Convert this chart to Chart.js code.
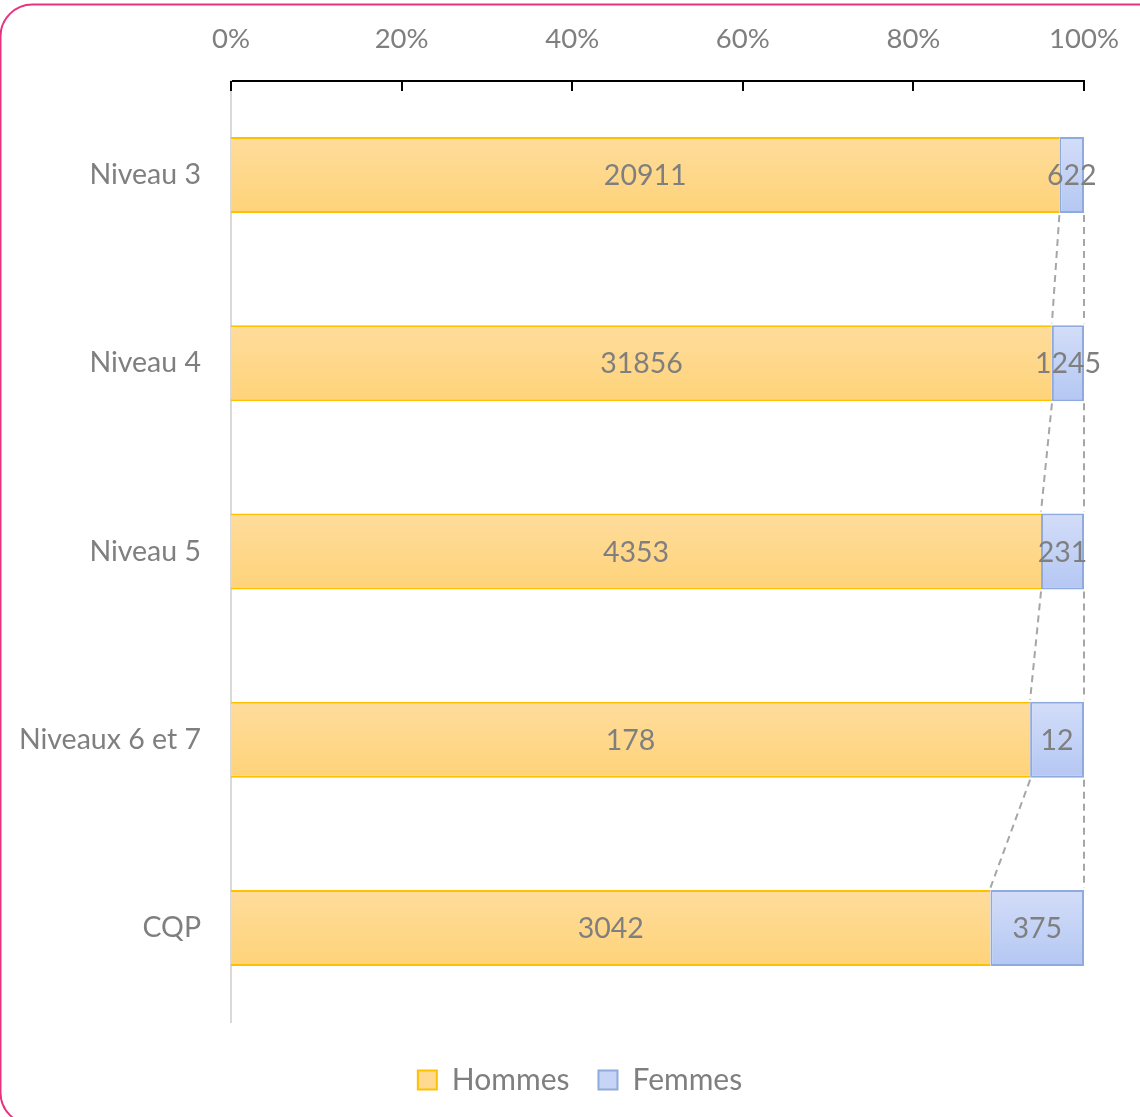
<!DOCTYPE html>
<html>
<head>
<meta charset="utf-8">
<script src="https://cdn.jsdelivr.net/npm/chart.js@4.4.1/dist/chart.umd.min.js"></script>
<style>
  html, body { margin: 0; padding: 0; background: #fff; }
  canvas { display: block; }
</style>
</head>
<body>
<canvas id="chart" width="1140" height="1117"></canvas>
<script>
const categories = ['Niveau 3', 'Niveau 4', 'Niveau 5', 'Niveaux 6 et 7', 'CQP'];
const hommes = [20911, 31856, 4353, 178, 3042];
const femmes = [622, 1245, 231, 12, 375];
const xTicks = [0, 20, 40, 60, 80, 100];

// 100% stacked: shares of each row
const hommesPct = hommes.map((h, i) => h / (h + femmes[i]) * 100);
const femmesPct = femmes.map((f, i) => f / (hommes[i] + f) * 100);

const FONT = 'Lato';
const GREY = '#7F7F7F';
const barPct = 0.404;

function barGradient(c, topColor, bottomColor) {
  const chart = c.chart;
  if (!chart.chartArea || c.dataIndex === undefined) return bottomColor;
  const y = chart.scales.y;
  const mid = y.getPixelForValue(c.dataIndex);
  const half = y.height / categories.length * barPct / 2;
  const g = chart.ctx.createLinearGradient(0, mid - half, 0, mid + half);
  g.addColorStop(0, topColor);
  g.addColorStop(1, bottomColor);
  return g;
}

const framePlugin = {
  id: 'frame',
  beforeDraw(chart) {
    const ctx = chart.ctx;
    ctx.save();
    ctx.fillStyle = '#fff';
    ctx.fillRect(0, 0, chart.width, chart.height);
    ctx.strokeStyle = '#E6337F';
    ctx.lineWidth = 2;
    ctx.beginPath();
    ctx.roundRect(0.5, 4.5, 1200, 1120, 32);
    ctx.stroke();
    ctx.restore();
  },
  afterDatasetsDraw(chart) {
    const ctx = chart.ctx;
    const m0 = chart.getDatasetMeta(0).data;
    const m1 = chart.getDatasetMeta(1).data;
    ctx.save();
    // series lines
    ctx.strokeStyle = '#A6A6A6';
    ctx.lineWidth = 2;
    ctx.setLineDash([7, 5]);
    [m0, m1].forEach(bars => {
      for (let i = 0; i < bars.length - 1; i++) {
        const a = bars[i], b = bars[i + 1];
        ctx.beginPath();
        ctx.moveTo(a.x, a.y + a.height / 2 + 2);
        ctx.lineTo(b.x, b.y - b.height / 2 - 2);
        ctx.stroke();
      }
    });
    ctx.setLineDash([]);
    // data labels
    ctx.fillStyle = GREY;
    ctx.font = '28.5px ' + FONT;
    ctx.textAlign = 'center';
    ctx.textBaseline = 'middle';
    [[m0, hommes], [m1, femmes]].forEach(([bars, vals]) => {
      bars.forEach((el, i) => {
        ctx.fillText(String(vals[i]), (el.x + el.base) / 2, el.y + 1);
      });
    });
    // tick marks pointing down from the top axis
    const x = chart.scales.x;
    ctx.strokeStyle = '#000';
    ctx.lineWidth = 2;
    xTicks.forEach(v => {
      const px = Math.round(x.getPixelForValue(v));
      ctx.beginPath();
      ctx.moveTo(px, chart.chartArea.top);
      ctx.lineTo(px, chart.chartArea.top + 10);
      ctx.stroke();
    });
    ctx.restore();
  }
};

new Chart(document.getElementById('chart'), {
  type: 'bar',
  data: {
    labels: categories,
    datasets: [
      {
        label: 'Hommes',
        data: hommesPct,
        backgroundColor: c => barGradient(c, '#FEDC9C', '#FED379'),
        borderColor: '#FFC000',
        borderWidth: { top: 2, bottom: 2, left: 0, right: 0 },
        borderSkipped: false,
        categoryPercentage: 1,
        barPercentage: barPct
      },
      {
        label: 'Femmes',
        data: femmesPct,
        backgroundColor: c => barGradient(c, '#D3DDF8', '#B4C7F3'),
        borderColor: '#8FAADC',
        borderWidth: 2,
        borderSkipped: false,
        categoryPercentage: 1,
        barPercentage: barPct
      }
    ]
  },
  options: {
    indexAxis: 'y',
    responsive: false,
    animation: false,
    devicePixelRatio: 1,
    layout: { padding: { top: 0, right: 0, bottom: 12, left: 20 } },
    scales: {
      x: {
        position: 'top',
        stacked: true,
        min: 0,
        max: 100,
        afterBuildTicks: s => { s.ticks = xTicks.map(v => ({ value: v })); },
        afterFit: s => { s.height = 81; s.paddingLeft = 0; s.paddingRight = 0; },
        grid: { display: false, drawTicks: false },
        border: { display: true, color: '#000', width: 2 },
        ticks: {
          padding: 25,
          color: GREY,
          font: { family: FONT, size: 27.5 },
          callback: v => v + '%'
        }
      },
      y: {
        stacked: true,
        afterFit: s => { s.width = 211; },
        grid: { display: false, drawTicks: false },
        border: { display: true, color: '#D9D9D9', width: 2 },
        ticks: {
          padding: 30,
          color: GREY,
          font: { family: FONT, size: 28.5 }
        }
      },
      // empty right-hand axis: keeps the white margin right of the bars
      yRight: {
        type: 'category',
        position: 'right',
        afterFit: s => { s.width = 56; },
        grid: { display: false, drawTicks: false },
        border: { display: false },
        ticks: { display: false }
      }
    },
    plugins: {
      tooltip: { enabled: false },
      legend: {
        position: 'bottom',
        title: { display: true, text: '', font: { size: 10, lineHeight: 1.4 } },
        labels: {
          color: GREY,
          font: { family: FONT, size: 30 },
          boxWidth: 19,
          boxHeight: 19,
          padding: 29,
          generateLabels: chart => {
            const fills = ['#FED98F', '#C6D4F6'];
            return chart.data.datasets.map((ds, i) => ({
              text: ds.label,
              fillStyle: fills[i],
              strokeStyle: ds.borderColor,
              lineWidth: 2,
              fontColor: GREY,
              hidden: false,
              datasetIndex: i
            }));
          }
        }
      }
    }
  },
  plugins: [framePlugin]
});
</script>
</body>
</html>
